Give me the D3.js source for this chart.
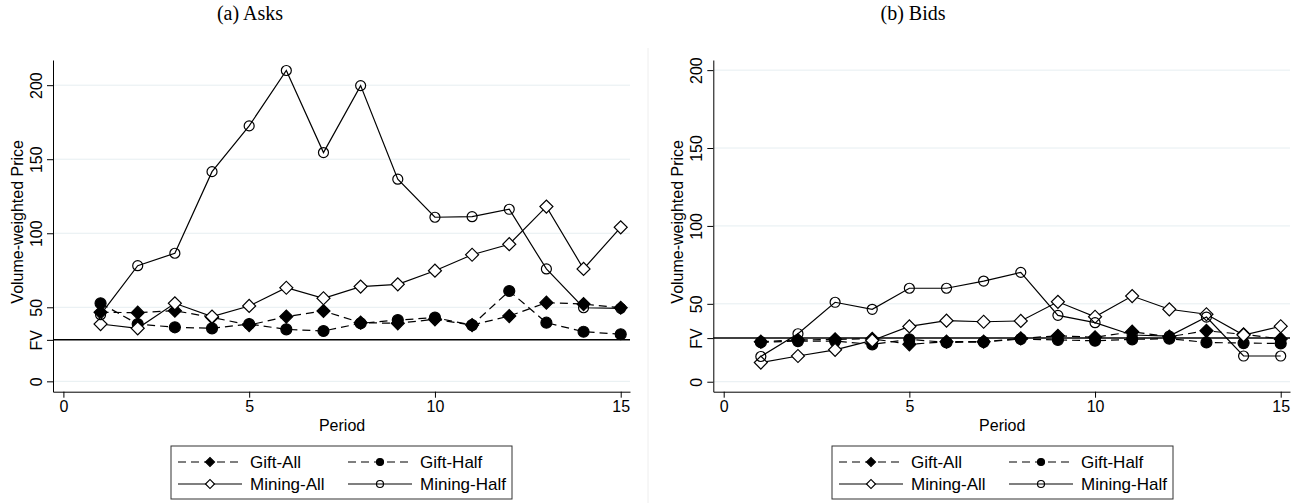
<!DOCTYPE html>
<html>
<head>
<meta charset="utf-8">
<script src="https://cdn.jsdelivr.net/npm/d3@7"></script>
<style>
  html, body { margin: 0; padding: 0; background: #fff; }
  svg { display: block; }
</style>
</head>
<body>
<svg id="chart" width="1302" height="503"></svg>
<script>
// ---------- data ----------
const periods = [1,2,3,4,5,6,7,8,9,10,11,12,13,14,15];
const seriesNames = ["Gift-All", "Gift-Half", "Mining-All", "Mining-Half"];
const xTicks = [0, 5, 10, 15];
const yTicks = [0, 50, 100, 150, 200];
const fundamentalValue = 28;
const fvLabel = "FV";
const panelTitles = ["(a) Asks", "(b) Bids"];
const xTitle = "Period";
const yTitle = "Volume-weighted Price";

const asksGiftAll    = [46.6,46.4,47.7,43.2,38.0,43.7,47.5,39.6,39.2,41.9,38.0,44.1,53.1,52.2,49.7];
const asksGiftHalf   = [52.7,38.7,36.5,35.8,38.7,35.1,34.0,39.2,41.4,43.0,38.0,61.0,39.6,33.5,31.8];
const asksMiningAll  = [38.7,35.8,52.7,43.7,50.9,63.2,56.1,64.0,65.5,74.7,85.5,92.6,118.0,75.9,104.0];
const asksMiningHalf = [45.0,78.1,86.5,141.6,172.5,209.9,154.5,199.7,136.5,110.8,111.2,116.2,75.9,49.7,49.3];

const bidsGiftAll    = [25.7,26.8,27.2,27.6,24.0,25.7,25.7,27.8,29.5,28.5,32.1,28.9,32.7,30.4,27.5];
const bidsGiftHalf   = [25.3,26.1,26.1,24.0,27.2,25.2,25.5,27.4,26.8,26.3,27.2,27.6,25.2,24.8,24.6];
const bidsMiningAll  = [12.3,16.5,20.5,26.5,35.5,39.2,38.5,39.0,51.3,41.7,55.0,46.5,43.3,30.0,35.6];
const bidsMiningHalf = [16.2,30.8,51.0,46.5,60.0,60.0,64.6,70.2,42.6,37.9,30.0,29.3,41.5,16.5,16.5];

// ---------- styles ----------
const styles = {
  "Gift-All":    { dash: "8,5", marker: "diamond", filled: true },
  "Gift-Half":   { dash: "8,5", marker: "circle",  filled: true },
  "Mining-All":  { dash: null,  marker: "diamond", filled: false },
  "Mining-Half": { dash: null,  marker: "circle",  filled: false }
};

const panels = [
  { title: panelTitles[0], titleX: 250,
    data: [asksGiftAll, asksGiftHalf, asksMiningAll, asksMiningHalf],
    xDom: [-0.28, 15.25], xRange: [53, 630],
    yDom: [-7, 217], yRange: [391.7, 60],
    legend: { x: 171, y: 446, w: 341, h: 53 } },
  { title: panelTitles[1], titleX: 913,
    data: [bidsGiftAll, bidsGiftHalf, bidsMiningAll, bidsMiningHalf],
    xDom: [-0.28, 15.25], xRange: [713.3, 1290],
    yDom: [-6.4, 206.5], yRange: [391.7, 60],
    legend: { x: 832, y: 446, w: 341, h: 53 } }
];

const svg = d3.select("#chart");
const FONT = "'Liberation Sans', Arial, sans-serif";

// separator between panels
svg.append("line").attr("x1", 648).attr("x2", 648).attr("y1", 48).attr("y2", 503)
  .attr("stroke", "#eeeeee").attr("stroke-width", 1);

function drawMarker(g, type, filled, cx, cy, size) {
  if (type === "diamond") {
    const s = size;
    g.append("path")
      .attr("d", d3.symbol().type(d3.symbolSquare).size(s * s / 2)())
      .attr("transform", `translate(${cx},${cy}) rotate(45)`)
      .attr("fill", filled ? "#000" : "#fff")
      .attr("stroke", "#000").attr("stroke-width", 1.2);
  } else {
    g.append("circle").attr("cx", cx).attr("cy", cy).attr("r", size / 2)
      .attr("fill", filled ? "#000" : "none")
      .attr("stroke", "#000").attr("stroke-width", 1.2);
  }
}

panels.forEach(p => {
  const x = d3.scaleLinear().domain(p.xDom).range(p.xRange);
  const y = d3.scaleLinear().domain(p.yDom).range(p.yRange);
  const g = svg.append("g");

  // title
  g.append("text").attr("x", p.titleX).attr("y", 20).attr("text-anchor", "middle")
    .attr("font-family", "'Liberation Serif', 'DejaVu Serif', serif").attr("font-size", 20)
    .text(p.title);

  // gridlines
  g.append("g").selectAll("line").data(yTicks).join("line")
    .attr("x1", p.xRange[0]).attr("x2", p.xRange[1])
    .attr("y1", d => y(d)).attr("y2", d => y(d))
    .attr("stroke", "#e6eef1").attr("stroke-width", 1);

  // y axis
  const yAxis = d3.axisLeft(y).tickValues(yTicks.concat([fundamentalValue]))
    .tickFormat(d => d === fundamentalValue ? fvLabel : d).tickSize(6).tickSizeOuter(0);
  const ya = g.append("g").attr("transform", `translate(${p.xRange[0]},0)`).call(yAxis);
  ya.select(".domain").attr("stroke", "#000").attr("stroke-width", 1);
  ya.selectAll(".tick line").attr("stroke", "#000");
  ya.selectAll(".tick text")
    .attr("font-family", FONT).attr("font-size", 16).attr("fill", "#000")
    .attr("transform", "rotate(-90)")
    .attr("x", 0).attr("y", -11).attr("dy", 0)
    .attr("text-anchor", "middle");

  // x axis
  const xAxis = d3.axisBottom(x).tickValues(xTicks).tickSize(6).tickSizeOuter(0);
  const xa = g.append("g").attr("transform", `translate(0,${p.yRange[0]})`).call(xAxis);
  xa.select(".domain").attr("stroke", "#000").attr("stroke-width", 1);
  xa.selectAll(".tick line").attr("stroke", "#000");
  xa.selectAll(".tick text")
    .attr("font-family", FONT).attr("font-size", 16).attr("fill", "#000")
    .attr("y", 9).attr("dy", "0.71em");

  // axis titles
  g.append("text")
    .attr("transform", `translate(${p.xRange[0] - 30},${(p.yRange[0] + p.yRange[1]) / 2 - 4}) rotate(-90)`)
    .attr("x", 0).attr("text-anchor", "middle")
    .attr("font-family", FONT).attr("font-size", 16).text(yTitle);
  g.append("text").attr("x", (x(0) + x(15)) / 2).attr("y", 431).attr("text-anchor", "middle")
    .attr("font-family", FONT).attr("font-size", 16).text(xTitle);

  // FV line
  g.append("line").attr("x1", p.xRange[0]).attr("x2", p.xRange[1])
    .attr("y1", y(fundamentalValue)).attr("y2", y(fundamentalValue))
    .attr("stroke", "#000").attr("stroke-width", 1.5);

  // series
  seriesNames.forEach((name, i) => {
    const st = styles[name];
    const vals = p.data[i];
    const pts = periods.map((t, j) => [x(t), y(vals[j])]);
    const sg = g.append("g");
    sg.append("path").attr("d", d3.line()(pts))
      .attr("fill", "none").attr("stroke", "#000").attr("stroke-width", 1.2)
      .attr("stroke-dasharray", st.dash);
    pts.forEach(pt => drawMarker(sg, st.marker, st.filled, pt[0], pt[1], st.marker === "diamond" ? 13 : (st.filled ? 11 : 10)));
  });

  // legend
  const L = p.legend;
  const lg = g.append("g");
  lg.append("rect").attr("x", L.x).attr("y", L.y).attr("width", L.w).attr("height", L.h)
    .attr("fill", "#fff").attr("stroke", "#333").attr("stroke-width", 1);
  seriesNames.forEach((name, i) => {
    const st = styles[name];
    const col = i % 2, row = Math.floor(i / 2);
    const lx = L.x + 7 + col * 170;
    const ly = L.y + 16 + row * 22;
    lg.append("line").attr("x1", lx).attr("x2", lx + 64).attr("y1", ly).attr("y2", ly)
      .attr("stroke", "#000").attr("stroke-width", 1.2).attr("stroke-dasharray", st.dash);
    drawMarker(lg, st.marker, st.filled, lx + 32, ly, st.marker === "diamond" ? 9 : 7);
    lg.append("text").attr("x", lx + 72).attr("y", ly + 6)
      .attr("font-family", FONT).attr("font-size", 17).text(name);
  });
});
</script>
</body>
</html>
